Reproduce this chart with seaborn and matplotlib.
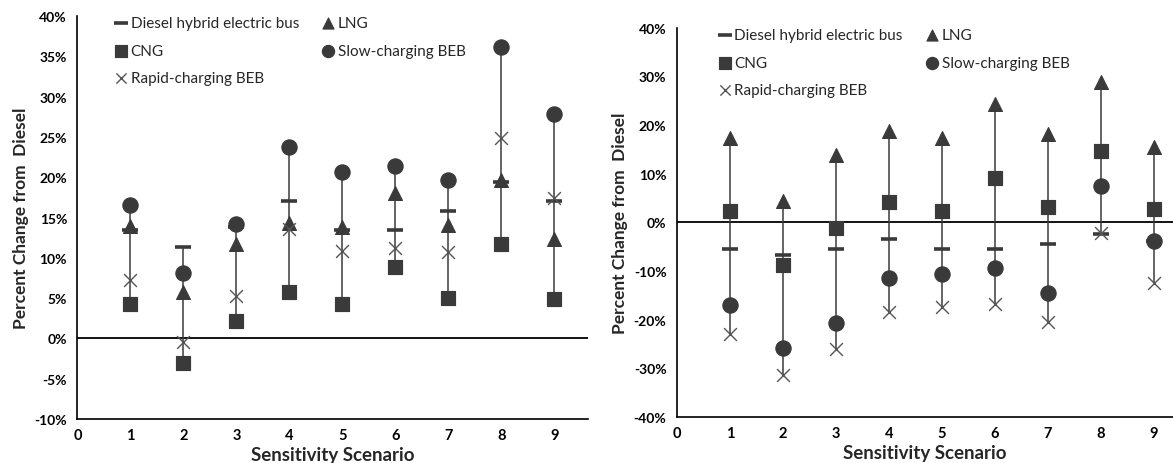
import seaborn as sns
import matplotlib.pyplot as plt
import numpy as np

scenarios = [1, 2, 3, 4, 5, 6, 7, 8, 9]
series = ['Diesel hybrid electric bus', 'LNG', 'CNG', 'Slow-charging BEB', 'Rapid-charging BEB']

# left panel (percent change from diesel)
left_hybrid = [13.5, 11.4, 13.8, 17.0, 13.5, 13.5, 15.8, 19.4, 17.1]
left_lng = [13.9, 5.7, 11.7, 14.3, 13.8, 18.1, 14.1, 19.7, 12.3]
left_cng = [4.3, -3.1, 2.1, 5.7, 4.3, 8.8, 5.0, 11.7, 4.9]
left_slow = [16.6, 8.1, 14.2, 23.8, 20.6, 21.4, 19.7, 36.2, 27.8]
left_rapid = [7.2, -0.4, 5.3, 13.6, 10.8, 11.2, 10.7, 24.9, 17.4]

# right panel
right_hybrid = [-5.5, -6.7, -5.5, -3.5, -5.5, -5.5, -4.5, -2.3, -3.8]
right_lng = [17.4, 4.5, 13.8, 18.8, 17.3, 24.3, 18.1, 28.8, 15.6]
right_cng = [2.4, -8.8, -1.2, 4.2, 2.4, 9.2, 3.2, 14.7, 2.7]
right_slow = [-17.0, -25.9, -20.6, -11.5, -10.5, -9.3, -14.5, 7.5, -3.8]
right_rapid = [-23.0, -31.4, -26.0, -18.4, -17.3, -16.7, -20.4, -2.1, -12.4]

sns.set_style('white')
plt.rcParams['font.family'] = ['Lato', 'DejaVu Sans']

dark = '#3a3a3a'
styles = {
    'Diesel hybrid electric bus': dict(marker='_', s=140, linewidth=2.6, color=dark),
    'LNG': dict(marker='^', s=100, color=dark, edgecolor=dark),
    'CNG': dict(marker='s', s=110, color=dark, edgecolor=dark),
    'Slow-charging BEB': dict(marker='o', s=120, color=dark, edgecolor=dark),
    'Rapid-charging BEB': dict(marker='x', s=85, linewidth=1.0, color='#555555'),
}

fig = plt.figure(figsize=(11.73, 4.64), dpi=100)
ax1 = fig.add_axes([0.066, 0.095, 0.435, 0.868])
ax2 = fig.add_axes([0.577, 0.099, 0.423, 0.839])


def draw(ax, data, ylim, yticks, xmax, anchor):
    arr = np.array([data[k] for k in series])
    ax.vlines(scenarios, arr.min(axis=0), arr.max(axis=0), color=dark, linewidth=1.1, zorder=1)
    ax.axhline(0, color='black', linewidth=1.3, zorder=0)
    for name in series:
        sns.scatterplot(x=scenarios, y=data[name], ax=ax, label=name, zorder=3, **styles[name])
    h, l = ax.get_legend_handles_labels()
    handles = dict(zip(l, h))
    order = ['Diesel hybrid electric bus', 'CNG', 'Rapid-charging BEB', 'LNG', 'Slow-charging BEB']
    ax.legend([handles[o] for o in order], order, ncol=2, frameon=False,
              loc='upper left', bbox_to_anchor=anchor, fontsize=11,
              handletextpad=0.05, columnspacing=1.3, labelspacing=0.9,
              handlelength=1.2, markerscale=0.8)
    ax.set_xlim(0, xmax)
    ax.set_ylim(*ylim)
    ax.set_xticks(range(0, 10))
    ax.set_yticks(yticks)
    ax.set_yticklabels([f'{t}%' for t in yticks])
    for s in ['top', 'right']:
        ax.spines[s].set_visible(False)
    for s in ['left', 'bottom']:
        ax.spines[s].set_color('black')
        ax.spines[s].set_linewidth(1.2)
    ax.tick_params(axis='y', direction='out', length=4, width=1, labelsize=10, colors='black')
    ax.tick_params(axis='x', direction='out', length=3, width=1, labelsize=10.5, colors='black')
    for t in ax.get_xticklabels() + ax.get_yticklabels():
        t.set_fontweight('bold')
    ax.set_xlabel('Sensitivity Scenario', fontsize=13.5, fontweight='bold', labelpad=3)
    ax.set_ylabel('Percent Change from  Diesel', fontsize=12.5, fontweight='bold', labelpad=4)


left = dict(zip(series, [left_hybrid, left_lng, left_cng, left_slow, left_rapid]))
right = dict(zip(series, [right_hybrid, right_lng, right_cng, right_slow, right_rapid]))

draw(ax1, left, (-10, 40), list(range(-10, 41, 5)), 9.63, (0.04, 1.035))
draw(ax2, right, (-40, 40), list(range(-40, 41, 10)), 9.36, (0.05, 1.035))

plt.savefig('out.png', dpi=100)
